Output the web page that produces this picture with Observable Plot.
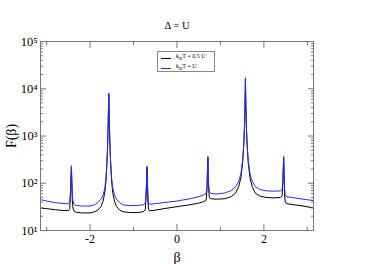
<!DOCTYPE html>
<html><head><meta charset="utf-8">
<script src="https://cdn.jsdelivr.net/npm/d3@7"></script>
<script src="https://cdn.jsdelivr.net/npm/@observablehq/plot@0.6"></script>
<style>
body{margin:0;background:#fff;}
#wrap{position:relative;width:374px;height:264px;font-family:"Liberation Serif","Times New Roman","DejaVu Serif",serif;}
#wrap svg text{font-family:"Liberation Serif","Times New Roman","DejaVu Serif",serif;}
#legend{position:absolute;left:157px;top:51px;width:58px;height:21px;border:1px solid #888;background:#fff;font-size:6px;line-height:10px;color:#000;box-sizing:border-box;padding-top:1px;}
#legend .row{display:flex;align-items:center;height:10px;}
#legend .sw{display:inline-block;width:10px;height:0;border-top:1px solid;margin:0 5px 0 3px;}
</style></head><body><div id="wrap"></div>
<script>
const title = "Δ = U";
const seriesLabels = ["k<sub>B</sub>T = 0.5 U", "k<sub>B</sub>T = U"];
const seriesColors = ["#000000", "#2a2af5"];
const xLabel = "β";
const yLabel = "F(β)";
const xMajor = [-2, 0, 2];
const xMinor = [-3, -1, 1, 3];
const yMajor = [10, 100, 1000, 10000, 100000];
const yMajorLabels = ["10¹", "10²", "10³", "10⁴", "10⁵"];
const yMinor = [20,30,40,50,60,70,80,90,200,300,400,500,600,700,800,900,2000,3000,4000,5000,6000,7000,8000,9000,20000,30000,40000,50000,60000,70000,80000,90000];

const beta = [-3.1416,-3.0,-2.8,-2.6,-2.5,-2.47,-2.45,-2.44,-2.43,-2.42,-2.41,-2.395,-2.37,-2.33,-2.2,-2.0,-1.9,-1.82,-1.75,-1.70,-1.66,-1.635,-1.615,-1.60,-1.588,-1.578,-1.570,-1.562,-1.552,-1.54,-1.525,-1.505,-1.48,-1.44,-1.39,-1.32,-1.24,-1.1,-0.9,-0.78,-0.73,-0.71,-0.70,-0.69,-0.68,-0.67,-0.655,-0.63,-0.55,-0.3,0.0,0.3,0.5,0.62,0.67,0.69,0.70,0.71,0.72,0.73,0.745,0.78,0.9,1.1,1.25,1.35,1.42,1.47,1.51,1.535,1.552,1.565,1.575,1.585,1.598,1.615,1.64,1.68,1.73,1.8,1.9,2.05,2.25,2.38,2.42,2.435,2.445,2.455,2.465,2.475,2.49,2.52,2.7,2.9,3.1416];
const fHalfU = [30,29,27.5,26.5,26.5,29,55,120,215,100,45,30,26,24.5,23.5,23.5,25,27,32,42,65,110,240,500,1250,3400,7900,3400,1250,500,240,110,65,42,32,27,25,24,24,25,27.5,55,115,215,100,42,28,26,26.5,29,32,35,38,41,44,70,160,350,150,70,50,47,46,47,52,62,85,130,270,600,1450,4400,16500,4400,1450,600,270,130,85,62,54,50,49,50,54,95,185,355,150,60,40,37,35,33,30];
const fFullU = [45,42,39,37,37,40,70,140,235,120,60,42,36,34,33,33,35,39,46,56,80,130,260,520,1300,3500,8100,3500,1300,520,260,130,80,56,46,39,35,33.5,34,35,38,65,130,230,115,55,39,36,36.5,39,42,47,52,57,62,85,180,370,170,85,66,61,59,62,70,85,110,160,300,650,1500,4500,17000,4500,1500,650,300,160,110,85,74,69,68,69,74,110,200,370,170,80,56,52,49,46,43];

const rows = [
  ...beta.map((b, i) => ({beta: b, f: fHalfU[i], s: 0})),
  ...beta.map((b, i) => ({beta: b, f: fFullU[i], s: 1}))
];

const serif = "'Liberation Serif','Times New Roman','DejaVu Serif',serif";
const tickColor = "#777";
const chart = Plot.plot({
  width: 374, height: 264,
  marginLeft: 40, marginRight: 61, marginTop: 41, marginBottom: 34,
  style: {fontFamily: serif, fontSize: "12px", background: "white", color: "black"},
  x: {domain: [-Math.PI, Math.PI]},
  y: {type: "log", domain: [10, 100000]},
  marks: [
    Plot.line(rows.filter(d => d.s === 0), {x: "beta", y: "f", stroke: seriesColors[0], strokeWidth: 1}),
    Plot.line(rows.filter(d => d.s === 1), {x: "beta", y: "f", stroke: seriesColors[1], strokeWidth: 1}),
    Plot.frame({stroke: tickColor}),
    Plot.axisX({anchor: "bottom", ticks: xMajor, tickSize: 0, tickPadding: 4, tickFormat: d => String(d), fontSize: 12, fontFamily: serif, fill: "black", label: null}),
    Plot.axisX({anchor: "bottom", ticks: [], tickSize: 0, label: xLabel, labelAnchor: "center", labelArrow: "none", labelOffset: 31, fontSize: 14, fontFamily: serif, fill: "black"}),
    Plot.axisX({anchor: "bottom", ticks: xMajor, tickSize: -6, stroke: tickColor, fill: "none", label: null}),
    Plot.axisX({anchor: "bottom", ticks: xMinor, tickSize: -3, stroke: tickColor, fill: "none", label: null}),
    Plot.axisX({anchor: "top", ticks: xMajor, tickSize: -6, stroke: tickColor, fill: "none", label: null}),
    Plot.axisX({anchor: "top", ticks: xMinor, tickSize: -3, stroke: tickColor, fill: "none", label: null}),
    Plot.axisY({anchor: "left", ticks: yMajor, tickSize: 0, tickPadding: 3, tickFormat: d => yMajorLabels[yMajor.indexOf(d)], fontSize: 12.5, fontFamily: serif, fill: "black", label: null}),
    Plot.axisY({anchor: "left", ticks: [], tickSize: 0, label: yLabel, labelAnchor: "center", labelArrow: "none", labelOffset: 34, fontSize: 14, fontFamily: serif, fill: "black"}),
    Plot.axisY({anchor: "left", ticks: yMajor, tickSize: -6, stroke: tickColor, fill: "none", label: null}),
    Plot.axisY({anchor: "left", ticks: yMinor, tickSize: -3, stroke: tickColor, fill: "none", label: null}),
    Plot.axisY({anchor: "right", ticks: yMajor, tickSize: -6, stroke: tickColor, fill: "none", label: null}),
    Plot.axisY({anchor: "right", ticks: yMinor, tickSize: -3, stroke: tickColor, fill: "none", label: null}),
    Plot.text([title], {frameAnchor: "top", dy: -20, fontSize: 10.5, fill: "black", fontFamily: serif})
  ]
});
const wrap = document.getElementById("wrap");
wrap.appendChild(chart);
const legend = document.createElement("div");
legend.id = "legend";
legend.innerHTML = seriesLabels.map((t, i) =>
  `<div class="row"><span class="sw" style="border-color:${seriesColors[i]}"></span><span>${t}</span></div>`).join("");
wrap.appendChild(legend);
</script></body></html>
